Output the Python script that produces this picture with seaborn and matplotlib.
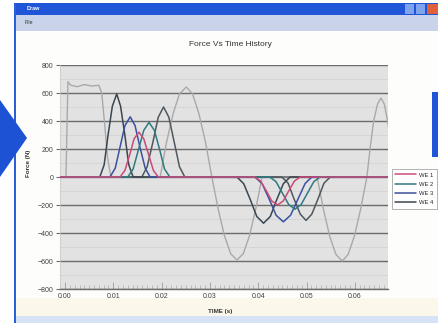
import matplotlib
matplotlib.use("Agg")
import matplotlib.pyplot as plt
from matplotlib.patches import Rectangle, Polygon
from matplotlib.ticker import MultipleLocator, FormatStrFormatter
import seaborn as sns
import pandas as pd

# ---------------- data ----------------
t_input = [-0.0010, 0.0002, 0.0006, 0.0012, 0.0025, 0.0040, 0.0055, 0.0070, 0.0076, 0.0082,
           0.0088, 0.0094, 0.0098,
           0.0197, 0.0210, 0.0224, 0.0237, 0.0251, 0.0264, 0.0277, 0.0291, 0.0304,
           0.0317, 0.0330, 0.0343, 0.0356, 0.0369, 0.0382, 0.0395, 0.0408,
           0.0522,
           0.0535, 0.0548, 0.0561, 0.0574, 0.0586, 0.0599, 0.0612, 0.0625,
           0.0632, 0.0639, 0.0647, 0.0654, 0.0661, 0.0668, 0.0676]
f_input = [0, 0, 680, 655, 645, 660, 650, 655, 600, 380, 140, 20, 0,
           0, 246, 455, 594, 643, 594, 455, 246, 0,
           -227, -419, -548, -593, -548, -419, -227, 0,
           0,
           -230, -424, -554, -600, -554, -424, -230, 0,
           216, 399, 521, 564, 521, 399, 216]

t_we1 = [-0.0010, 0.0114, 0.0124, 0.0134, 0.0143, 0.0153, 0.0163, 0.0173, 0.0183, 0.0193,
         0.0393, 0.0405, 0.0417, 0.0428, 0.0440, 0.0452, 0.0463, 0.0475, 0.0487, 0.0669]
f_we1 = [0, 0, 47, 160, 273, 320, 273, 160, 47, 0,
         0, -29, -100, -171, -200, -171, -100, -29, 0, 0]

t_we2 = [-0.0010, 0.0130, 0.0141, 0.0152, 0.0163, 0.0174, 0.0185, 0.0196, 0.0206, 0.0217,
         0.0424, 0.0437, 0.0450, 0.0463, 0.0476, 0.0489, 0.0502, 0.0515, 0.0528, 0.0669]
f_we2 = [0, 0, 57, 195, 333, 390, 333, 195, 57, 0,
         0, -34, -115, -196, -230, -196, -115, -34, 0, 0]

t_we3 = [-0.0010, 0.0093, 0.0104, 0.0114, 0.0124, 0.0135, 0.0145, 0.0155, 0.0166, 0.0176,
         0.0393, 0.0408, 0.0423, 0.0437, 0.0452, 0.0467, 0.0482, 0.0497, 0.0511, 0.0669]
f_we3 = [0, 0, 63, 215, 367, 430, 367, 215, 63, 0,
         0, -47, -160, -273, -320, -273, -160, -47, 0, 0]

t_we4 = [-0.0010, 0.0072, 0.0081, 0.0089, 0.0098, 0.0107, 0.0115, 0.0124, 0.0132, 0.0141,
         0.0356, 0.0370, 0.0384, 0.0397, 0.0411, 0.0425, 0.0438, 0.0452, 0.0466, 0.0669]
f_we4 = [0, 0, 87, 297, 506, 593, 506, 297, 87, 0,
         0, -48, -165, -282, -330, -282, -165, -48, 0, 0]

t_we5 = [-0.0010, 0.0159, 0.0170, 0.0182, 0.0193, 0.0204, 0.0215, 0.0226, 0.0237, 0.0248,
         0.0449, 0.0462, 0.0474, 0.0487, 0.0499, 0.0511, 0.0524, 0.0536, 0.0549, 0.0669]
f_we5 = [0, 0, 73, 250, 427, 500, 427, 250, 73, 0,
         0, -45, -155, -265, -310, -265, -155, -45, 0, 0]

x_ticks = [0.00, 0.01, 0.02, 0.03, 0.04, 0.05, 0.06]
y_ticks = [-800, -600, -400, -200, 0, 200, 400, 600, 800]
legend_labels = ["WE 1", "WE 2", "WE 3", "WE 4"]

# ---------------- figure ----------------
sns.set_style("white")
plt.rcParams["font.family"] = ["Liberation Sans", "DejaVu Sans"]

W, H = 439, 323
fig = plt.figure(figsize=(W / 100, H / 100), dpi=100)
fig.patch.set_facecolor("white")


def rect(x, y, w, h, color, z=-5):
    fig.patches.append(Rectangle((x / W, 1 - (y + h) / H), w / W, h / H,
                                 transform=fig.transFigure, color=color, zorder=z, lw=0))


# window chrome
rect(15, 3, 424, 320, "#fdfdfb")
rect(15, 298, 424, 18, "#fbf7ea")
rect(15, 316, 424, 7, "#d6e2f6")
rect(15, 3, 424, 12, "#1f55d6")
rect(15, 15, 424, 16, "#c9d3ea")
rect(14, 3, 2, 320, "#2a5fd8")
rect(405, 4, 9, 10, "#7fa3ee")
rect(416, 4, 9, 10, "#7fa3ee")
rect(427, 4, 12, 10, "#e0603a")
rect(432, 92, 7, 65, "#1f55d6")
fig.patches.append(Polygon([(0, 1 - 100 / H), (27 / W, 1 - 138 / H), (0, 1 - 177 / H)],
                           closed=True, transform=fig.transFigure, color="#1d52d4", lw=0,
                           zorder=-5))
fig.text(27 / W, 1 - 9 / H, "Draw", color="white", fontsize=4, va="center", ha="left",
         fontweight="bold")
fig.text(25 / W, 1 - 23 / H, "File", color="#333333", fontsize=3.8, va="center", ha="left")

ax = fig.add_axes([60 / W, 1 - 289 / H, 328 / W, 224 / H])
ax.set_zorder(2)
ax.set_facecolor("#e2e2e2")

series = [
    (t_input, f_input, "#a9a9a9", "_nolegend_", 1.0),
    (t_we5, f_we5, "#4f585e", "_nolegend_", 1.1),
    (t_we4, f_we4, "#3a4650", legend_labels[3], 1.1),
    (t_we3, f_we3, "#3c50a0", legend_labels[2], 1.1),
    (t_we2, f_we2, "#2e7a80", legend_labels[1], 1.1),
    (t_we1, f_we1, "#cc4a7a", legend_labels[0], 1.1),
]
ax.axhline(0, color="#1e1e1e", lw=1.4, zorder=1)
for t, f, c, lab, lw in series:
    df = pd.DataFrame({"time": t, "force": f})
    sns.lineplot(data=df, x="time", y="force", color=c, lw=lw, ax=ax,
                 label=lab, legend=False, zorder=3)

ax.set_xlim(-0.00104, 0.06687)
ax.set_ylim(-800, 800)
ax.set_xticks(x_ticks)
ax.set_yticks(y_ticks)
ax.xaxis.set_major_formatter(FormatStrFormatter("%.2f"))
ax.xaxis.set_minor_locator(MultipleLocator(0.001))
ax.yaxis.set_minor_locator(MultipleLocator(100))
ax.grid(axis="y", which="major", color="#6c6c6c", lw=1.0, zorder=0)
ax.grid(axis="y", which="minor", color="#d0d0d0", lw=0.5, zorder=0)
ax.set_axisbelow(True)
ax.tick_params(axis="y", which="major", length=3, width=0.8, color="#6c6c6c",
               labelsize=5, labelcolor="#404040", pad=1.5, left=True)
ax.tick_params(axis="y", which="minor", length=0)
ax.tick_params(axis="x", which="major", direction="in", length=5, width=0.5,
               color="#909090", labelsize=5, labelcolor="#404040", pad=3, bottom=True)
ax.tick_params(axis="x", which="minor", direction="in", length=3, width=0.4,
               color="#a0a0a0", bottom=True)
for s in ["top", "right"]:
    ax.spines[s].set_visible(False)
ax.spines["left"].set_color("#c8c8c8")
ax.spines["left"].set_linewidth(0.5)
ax.spines["bottom"].set_color("#6c6c6c")
ax.spines["bottom"].set_linewidth(1.0)
ax.set_xlabel("")
ax.set_ylabel("")

fig.text(230 / W, 1 - 45 / H, "Force Vs Time History", ha="center", va="center",
         fontsize=6, color="#333333")
fig.text(220 / W, 1 - 311 / H, "TIME (s)", ha="center", va="center",
         fontsize=4.5, color="#333333", fontweight="bold")
fig.text(29 / W, 1 - 163 / H, "Force (N)", ha="center", va="center", rotation=90,
         fontsize=4.5, color="#333333", fontweight="bold")

handles, labels = ax.get_legend_handles_labels()
order = [labels.index(l) for l in legend_labels]
leg = ax.legend([handles[i] for i in order], [labels[i] for i in order],
                loc="upper left", bbox_to_anchor=(389 / W, 1 - 166 / H),
                bbox_transform=fig.transFigure, fontsize=4.2, frameon=True,
                fancybox=False, edgecolor="#909090", handlelength=3.5,
                borderpad=0.6, labelspacing=0.7, handletextpad=0.5)
leg.get_frame().set_linewidth(0.6)

fig.savefig("out.png", dpi=100)
